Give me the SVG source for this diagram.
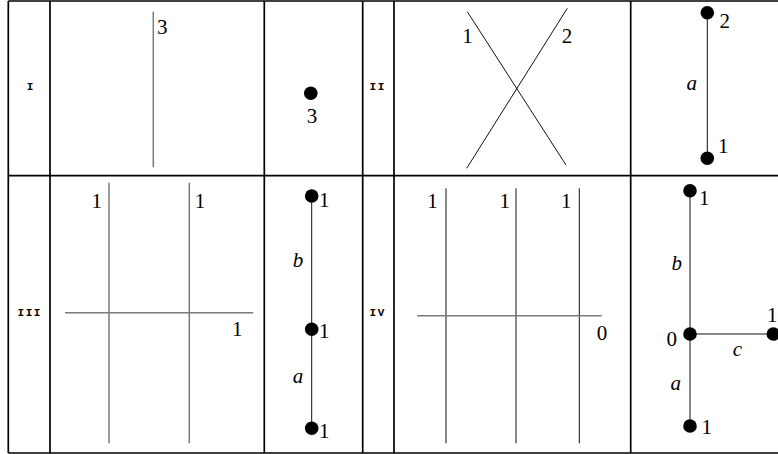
<svg xmlns="http://www.w3.org/2000/svg" width="778" height="454" viewBox="0 0 778 454">
<style>
.grid{stroke:#000;stroke-width:1.7;fill:none}
.gl{stroke:#7a7a7a;stroke-width:1.5;fill:none}
.bl{stroke:#111;stroke-width:1;fill:none}
.dot{fill:#000}
.m{text-anchor:middle}
</style>
<rect width="778" height="454" fill="#fff"/>
<g id="table">
<path class="grid" d="M8.3,1 H790 M8.3,175.7 H790 M8.3,453 H790 M8.3,1 V453 M50,1 V453 M264.3,1 V453 M362.7,1 V453 M394,1 V453 M630.7,1 V453"/>
</g>
<g id="row-labels" font-family="Liberation Mono, Courier New, monospace" font-size="11" font-weight="bold" letter-spacing="1.5" fill="#000">
<text class="m" x="30.7" y="89.5">I</text>
<text class="m" x="377.7" y="90">II</text>
<text class="m" x="29.7" y="316">III</text>
<text class="m" x="377.7" y="316">IV</text>
</g>
<g id="connectors">
<line class="gl" x1="153.3" y1="11.7" x2="153.3" y2="167.3"/>
<line class="bl" x1="467.3" y1="11.7" x2="566" y2="165"/>
<line class="bl" x1="567.3" y1="8.3" x2="466.7" y2="168.3"/>
<line class="bl" x1="707.3" y1="12.7" x2="707.3" y2="158.3"/>
<line class="gl" x1="109" y1="182.7" x2="109" y2="443.3"/>
<line class="gl" x1="189.3" y1="182.7" x2="189.3" y2="443.3"/>
<line class="gl" x1="65" y1="312.7" x2="253.3" y2="312.7"/>
<line class="bl" x1="311.7" y1="196" x2="311.7" y2="428.3"/>
<line class="bl" x1="446" y1="188.3" x2="446" y2="443.3"/>
<line class="bl" x1="516" y1="188.3" x2="516" y2="443.3"/>
<line class="bl" x1="579.3" y1="188.3" x2="579.3" y2="443.3"/>
<line class="gl" x1="417.3" y1="315.7" x2="601.7" y2="315.7"/>
<line class="bl" x1="690" y1="190.7" x2="690" y2="426"/>
<line class="bl" x1="690" y1="334" x2="773.3" y2="334"/>
</g>
<g font-family="Liberation Serif, Times New Roman, serif" font-size="21" fill="#000">
<g id="cell-I">
<text x="157" y="34">3</text>
</g>
<g id="node-I-3">
<circle class="dot" cx="310.8" cy="93.3" r="6.8"/>
<text class="m" x="312" y="122.5">3</text>
</g>
<g id="cell-II">
<text class="m" x="467.5" y="43">1</text>
<text class="m" x="567" y="42.5">2</text>
</g>
<g id="graph-II">
<circle class="dot" cx="707.3" cy="12.7" r="6.8"/>
<circle class="dot" cx="707.3" cy="158.3" r="6.8"/>
<text x="719.5" y="28">2</text>
<text x="718" y="153">1</text>
<text class="m" x="691.7" y="90" font-style="italic">a</text>
</g>
<g id="cell-III">
<text class="m" x="96.7" y="208">1</text>
<text class="m" x="200" y="208">1</text>
<text class="m" x="237.3" y="335.5">1</text>
</g>
<g id="graph-III">
<circle class="dot" cx="311.7" cy="196" r="6.8"/>
<circle class="dot" cx="311.7" cy="329.3" r="6.8"/>
<circle class="dot" cx="311.7" cy="428.3" r="6.8"/>
<text x="319" y="207">1</text>
<text x="319" y="338">1</text>
<text x="319" y="438">1</text>
<text class="m" x="298" y="267" font-style="italic">b</text>
<text class="m" x="298" y="383" font-style="italic">a</text>
</g>
<g id="cell-IV">
<text class="m" x="432.5" y="208">1</text>
<text class="m" x="504.7" y="208">1</text>
<text class="m" x="566.2" y="208">1</text>
<text class="m" x="602" y="340">0</text>
</g>
<g id="graph-IV">
<circle class="dot" cx="690" cy="190.7" r="6.8"/>
<circle class="dot" cx="690" cy="334" r="6.8"/>
<circle class="dot" cx="690" cy="426" r="6.8"/>
<circle class="dot" cx="773.3" cy="334" r="6.8"/>
<text x="699" y="205">1</text>
<text class="m" x="676.7" y="270" font-style="italic">b</text>
<text class="m" x="671.7" y="345.5">0</text>
<text x="767" y="321.5">1</text>
<text class="m" x="737.3" y="356" font-style="italic">c</text>
<text class="m" x="675.7" y="390" font-style="italic">a</text>
<text x="701.5" y="434">1</text>
</g>
</g>
</svg>
